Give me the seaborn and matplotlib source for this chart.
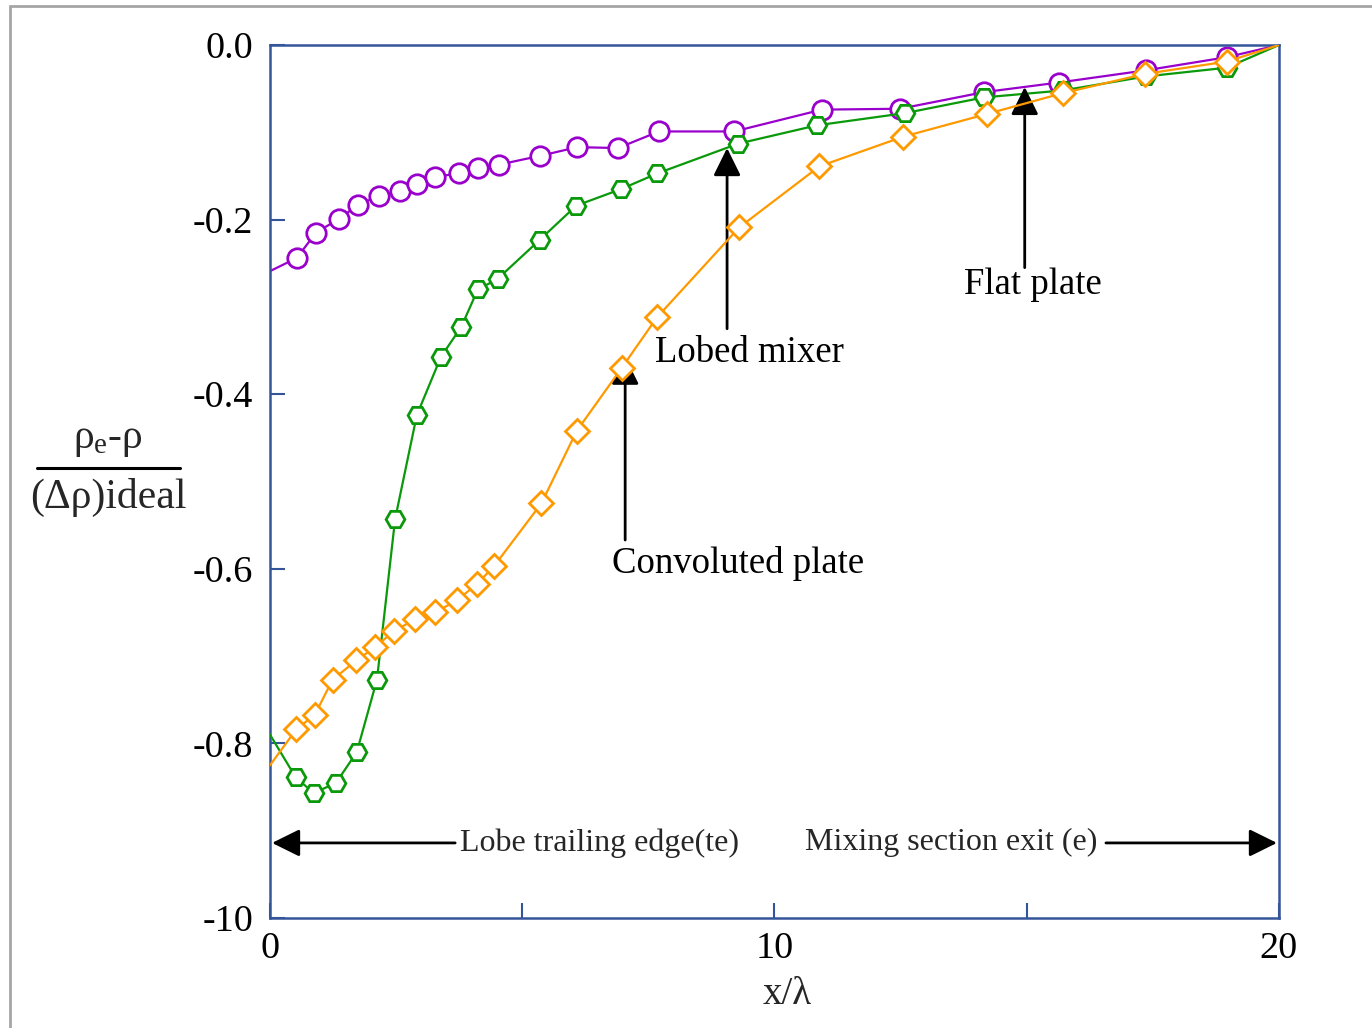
import numpy as np
import pandas as pd
import matplotlib
matplotlib.use('Agg')
import matplotlib.pyplot as plt
from matplotlib.lines import Line2D
import seaborn as sns

# data (x/lambda, normalised density defect)
# first and last entries are the curve end points (no marker drawn there)
flat_x = [0.0, 0.53, 0.91, 1.37, 1.75, 2.16, 2.58, 2.91, 3.27, 3.75, 4.12, 4.54,
          5.35, 6.09, 6.90, 7.71, 9.20, 10.94, 12.49, 14.15, 15.63, 17.36, 18.96, 20.0]
flat_y = [-0.259, -0.244, -0.215, -0.199, -0.183, -0.173, -0.167, -0.159, -0.151, -0.147,
          -0.141, -0.137, -0.127, -0.117, -0.118, -0.099, -0.099, -0.074, -0.073, -0.054,
          -0.043, -0.029, -0.014, 0.0]

lobed_x = [0.0, 0.51, 0.87, 1.31, 1.72, 2.12, 2.48, 2.91, 3.39, 3.79, 4.12, 4.51,
           5.35, 6.07, 6.96, 7.68, 9.28, 10.84, 12.59, 14.15, 15.72, 17.36, 18.96, 20.0]
lobed_y = [-0.790, -0.839, -0.857, -0.845, -0.810, -0.727, -0.543, -0.424, -0.357, -0.323,
           -0.280, -0.268, -0.223, -0.184, -0.165, -0.147, -0.113, -0.092, -0.078, -0.060,
           -0.052, -0.036, -0.026, 0.0]

conv_x = [0.0, 0.52, 0.89, 1.24, 1.71, 2.08, 2.46, 2.88, 3.27, 3.71, 4.11, 4.44,
          5.38, 6.08, 6.97, 7.67, 9.30, 10.89, 12.55, 14.21, 15.72, 17.35, 18.96, 20.0]
conv_y = [-0.825, -0.784, -0.767, -0.727, -0.705, -0.690, -0.671, -0.658, -0.650, -0.636,
          -0.617, -0.597, -0.525, -0.442, -0.370, -0.312, -0.209, -0.139, -0.105, -0.079,
          -0.055, -0.033, -0.019, 0.0]

ytick_vals = [0.0, -0.2, -0.4, -0.6, -0.8, -1.0]
ytick_labels = ['0.0', '-0.2', '-0.4', '-0.6', '-0.8', '-10']
xtick_vals = [0, 10, 20]
xtick_labels = ['0', '10', '20']

sns.set_style('white')
plt.rcParams['font.family'] = ['Liberation Serif', 'DejaVu Serif']
plt.rcParams['mathtext.fontset'] = 'custom'
plt.rcParams['mathtext.rm'] = 'Liberation Serif'
plt.rcParams['mathtext.it'] = 'Liberation Serif'

axis_col = '#35559a'

fig = plt.figure(figsize=(13.72, 10.28), dpi=100)
ax = fig.add_axes([0.1968, 0.1070, 0.7354, 0.8492])

series = [
    (flat_x, flat_y, '#9900cc', 'o', 14, 2),
    (lobed_x, lobed_y, '#0a990a', 'H', 13.5, 3),
    (conv_x, conv_y, '#ff9900', 'D', 12, 4),
]
for xs, ys, col, mk, ms, z in series:
    df = pd.DataFrame({'x': xs, 'y': ys})
    sns.lineplot(data=df, x='x', y='y', ax=ax, color=col, lw=1.6, sort=False,
                 marker=mk, markersize=ms, markerfacecolor='white',
                 markeredgecolor=col, markeredgewidth=2.0,
                 markevery=list(range(1, len(xs) - 1)), zorder=z)

ax.set_xlim(0, 20)
ax.set_ylim(-1.0, 0.0)
ax.set_xticks(xtick_vals)
ax.set_xticklabels(xtick_labels)
ax.set_xticks([5, 15], minor=True)
ax.set_yticks(ytick_vals)
ax.set_yticklabels(ytick_labels)
ax.set_xlabel('')
ax.set_ylabel('')

for side in ['left', 'right', 'top', 'bottom']:
    ax.spines[side].set_visible(True)
    ax.spines[side].set_color(axis_col)
    ax.spines[side].set_linewidth(1.8)

ax.tick_params(axis='both', which='both', direction='in', colors=axis_col,
               labelcolor='black', labelsize=27.5, width=1.5, length=11)
ax.tick_params(axis='y', pad=12)
ax.tick_params(axis='x', pad=10)
ax.tick_params(axis='both', which='both', top=False, right=False, bottom=True, left=True)

# annotations
arrow_kw = dict(arrowstyle='-|>,head_length=0.85,head_width=0.42', color='black',
                lw=2, shrinkA=0, shrinkB=0, mutation_scale=20)
txt_kw = dict(fontsize=26.5, color='black')

ax.annotate('', xy=(14.96, -0.048), xytext=(14.96, -0.255), arrowprops=arrow_kw)
ax.text(15.12, -0.275, 'Flat plate', ha='center', va='center', **txt_kw)

ax.annotate('', xy=(9.06, -0.118), xytext=(9.06, -0.325), arrowprops=arrow_kw)
ax.text(9.51, -0.352, 'Lobed mixer', ha='center', va='center', **txt_kw)

ax.annotate('', xy=(7.04, -0.357), xytext=(7.04, -0.567), arrowprops=arrow_kw)
ax.text(9.28, -0.594, 'Convoluted plate', ha='center', va='center', **txt_kw)

ax.annotate('', xy=(0.04, -0.914), xytext=(3.67, -0.914), arrowprops=arrow_kw)
ax.text(3.77, -0.914, 'Lobe trailing edge(te)', ha='left', va='center', fontsize=23)

ax.annotate('', xy=(19.96, -0.914), xytext=(16.57, -0.914), arrowprops=arrow_kw)
ax.text(16.41, -0.914, 'Mixing section exit (e)', ha='right', va='center', fontsize=23)

# axis titles
fig.text(787 / 1372, 1 - 995 / 1028, 'x/λ', ha='center', va='center', fontsize=28)
fig.text(108 / 1372, 1 - 440 / 1028, r'$\rho_{\mathregular{e}}$-ρ', ha='center', va='center',
         fontsize=30)
fig.text(108 / 1372, 1 - 497 / 1028, '(Δρ)ideal', ha='center', va='center', fontsize=30)
fig.add_artist(Line2D([37 / 1372, 180 / 1372], [1 - 468 / 1028, 1 - 468 / 1028],
                      transform=fig.transFigure, color='black', lw=2.2))

# light grey frame around the figure (left and top edges visible)
fig.add_artist(Line2D([10 / 1372, 10 / 1372], [0, 1 - 6 / 1028],
                      transform=fig.transFigure, color='#a6a6a6', lw=2))
fig.add_artist(Line2D([10 / 1372, 1], [1 - 6 / 1028, 1 - 6 / 1028],
                      transform=fig.transFigure, color='#a6a6a6', lw=2))

fig.savefig('out.png', dpi=100)
